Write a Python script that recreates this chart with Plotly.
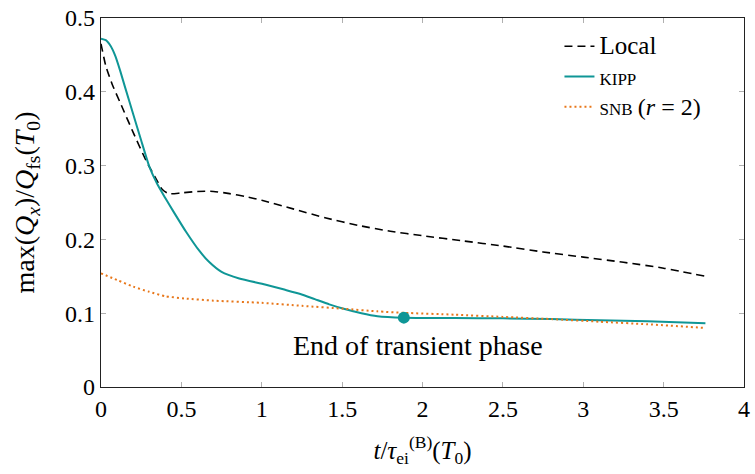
import plotly.graph_objects as go

# Time axis, in units of tau_ei^(B)(T0)
t_local = [0.0, 0.03, 0.07, 0.12, 0.2, 0.28, 0.34, 0.38, 0.42, 0.5, 0.6, 0.7, 0.8, 0.9, 1.0,
           1.2, 1.4, 1.6, 1.8, 2.0, 2.25, 2.5, 2.75, 3.0, 3.25, 3.5, 3.76]
q_local = [0.465, 0.435, 0.41, 0.385, 0.345, 0.307, 0.283, 0.268, 0.262, 0.263, 0.265, 0.265,
           0.262, 0.258, 0.253, 0.241, 0.229, 0.219, 0.211, 0.205, 0.198, 0.191, 0.183, 0.176,
           0.169, 0.161, 0.150]

t_kipp = [0.0, 0.03, 0.06, 0.09, 0.12, 0.15, 0.2, 0.25, 0.3, 0.35, 0.4, 0.45, 0.53, 0.61, 0.67,
          0.75, 0.86, 1.02, 1.14, 1.24, 1.33, 1.42, 1.51, 1.62, 1.72, 1.884, 2.2, 2.5, 2.8,
          3.1, 3.4, 3.76]
q_kipp = [0.472, 0.470, 0.462, 0.448, 0.428, 0.406, 0.370, 0.334, 0.299, 0.275, 0.256, 0.238,
          0.210, 0.185, 0.170, 0.156, 0.147, 0.139, 0.132, 0.126, 0.119, 0.112, 0.106, 0.100,
          0.096, 0.094, 0.0935, 0.093, 0.092, 0.0905, 0.089, 0.0865]

t_snb = [0.0, 0.1, 0.2, 0.3, 0.4, 0.52, 0.7, 1.0, 1.25, 1.51, 1.72, 1.884, 2.2, 2.5, 2.8, 3.1,
         3.4, 3.76]
q_snb = [0.154, 0.145, 0.136, 0.129, 0.123, 0.120, 0.117, 0.114, 0.110, 0.106, 0.1025, 0.1005,
         0.098, 0.095, 0.092, 0.0885, 0.085, 0.080]

# End of the transient phase
t_end = [1.884]
q_end = [0.094]

x_ticks = [0, 0.5, 1, 1.5, 2, 2.5, 3, 3.5, 4]
x_labels = ["0", "0.5", "1", "1.5", "2", "2.5", "3", "3.5", "4"]
y_ticks = [0, 0.1, 0.2, 0.3, 0.4, 0.5]
y_labels = ["0", "0.1", "0.2", "0.3", "0.4", "0.5"]

FONT = "Liberation Serif"
TEAL = "#0f9696"
ORANGE = "#e8771a"

fig = go.Figure()
fig.add_trace(go.Scatter(x=t_local, y=q_local, mode="lines",
                         name="<span style='font-size:25px'>Local</span>",
                         line=dict(color="black", width=1.6, dash="8px,5px",
                                   shape="spline", smoothing=0.6)))
fig.add_trace(go.Scatter(x=t_kipp, y=q_kipp, mode="lines",
                         name="<span style='font-size:17px'>KIPP</span>",
                         line=dict(color=TEAL, width=2, shape="spline", smoothing=0.5)))
fig.add_trace(go.Scatter(x=t_snb, y=q_snb, mode="lines",
                         name="<span style='font-size:17px'>SNB</span> "
                              "<span style='font-size:24px'>(<i>r</i> = 2)</span>",
                         line=dict(color=ORANGE, width=2, dash="2px,3px",
                                   shape="spline", smoothing=0.6)))
fig.add_trace(go.Scatter(x=t_end, y=q_end, mode="markers", showlegend=False,
                         marker=dict(color=TEAL, size=12)))

fig.add_annotation(x=1.97, y=0.056, text="End of transient phase", showarrow=False,
                   font=dict(family=FONT, size=28, color="black"))

axis_common = dict(showgrid=False, zeroline=False, showline=True, linecolor="#222",
                   linewidth=1.3, mirror="allticks", ticks="inside", ticklen=5,
                   tickcolor="#b0b0b0", tickwidth=1.3,
                   tickfont=dict(family=FONT, size=24, color="black"))

fig.update_xaxes(range=[0, 4], tickvals=x_ticks, ticktext=x_labels,
                 title=dict(text="<i>t</i>/<i>τ</i><sub>ei</sub><sup>(B)</sup>(<i>T</i><sub>0</sub>)",
                            font=dict(family=FONT, size=25, color="black"), standoff=20),
                 **axis_common)
fig.update_yaxes(range=[0, 0.5], tickvals=y_ticks, ticktext=y_labels,
                 title=dict(text="max(<i>Q</i><sub><i>x</i></sub>)/<i>Q</i><sub>fs</sub>(<i>T</i><sub>0</sub>)",
                            font=dict(family=FONT, size=28, color="black"), standoff=22),
                 **axis_common)

fig.update_layout(
    width=755, height=474,
    margin=dict(l=101, r=5, t=13, b=87),
    plot_bgcolor="white", paper_bgcolor="white",
    font=dict(family=FONT, color="black"),
    legend=dict(x=0.713, y=0.978, xanchor="left", yanchor="top",
                bgcolor="rgba(0,0,0,0)", borderwidth=0, tracegroupgap=0,
                font=dict(family=FONT, size=21, color="black")),
)

fig.write_html("out.html")
